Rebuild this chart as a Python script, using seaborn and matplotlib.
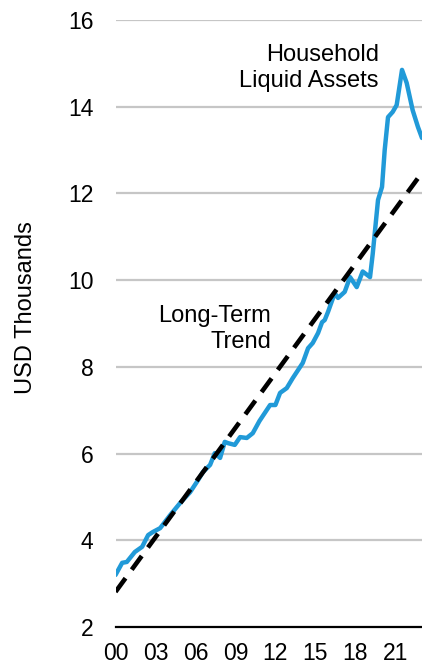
import matplotlib
matplotlib.use("Agg")
import matplotlib.pyplot as plt
import seaborn as sns
import pandas as pd

# household liquid assets, USD thousands
asset_years = [2000.0, 2000.5, 2000.85, 2001.45, 2002.0, 2002.45, 2002.8, 2003.35,
               2004.1, 2004.85, 2005.6, 2006.2, 2006.55, 2007.1, 2007.45, 2007.85,
               2008.2, 2008.45, 2008.95, 2009.35, 2009.85, 2010.3, 2010.8, 2011.6,
               2012.0, 2012.35, 2012.85, 2013.3, 2013.6, 2014.05, 2014.45, 2014.8,
               2015.2, 2015.5, 2015.7, 2015.95, 2016.45, 2016.7, 2017.2, 2017.6,
               2018.1, 2018.55, 2019.1, 2019.3, 2019.7, 2020.0, 2020.2, 2020.45,
               2020.8, 2021.1, 2021.5, 2021.85, 2022.3, 2022.7, 2023.0]
asset_values = [3.2, 3.48, 3.5, 3.73, 3.85, 4.12, 4.19, 4.28,
                4.58, 4.86, 5.11, 5.39, 5.57, 5.74, 6.01, 5.9,
                6.27, 6.24, 6.2, 6.38, 6.36, 6.47, 6.75, 7.12,
                7.12, 7.4, 7.51, 7.74, 7.88, 8.09, 8.43, 8.55,
                8.78, 9.03, 9.08, 9.27, 9.7, 9.59, 9.73, 10.07,
                9.84, 10.2, 10.07, 10.6, 11.85, 12.15, 13.0, 13.76,
                13.88, 14.04, 14.85, 14.55, 13.92, 13.53, 13.28]

# long-term trend end points
trend_years = [2000.0, 2023.0]
trend_values = [2.81, 12.48]

tick_years = [2000, 2003, 2006, 2009, 2012, 2015, 2018, 2021]
tick_labels = ["00", "03", "06", "09", "12", "15", "18", "21"]
y_ticks = [2, 4, 6, 8, 10, 12, 14, 16]

sns.set_style("white")
plt.rcParams["font.family"] = ["Liberation Sans", "DejaVu Sans"]
plt.rcParams["text.color"] = "black"
plt.rcParams["axes.labelcolor"] = "black"

assets = pd.DataFrame({"year": asset_years, "value": asset_values})
trend = pd.DataFrame({"year": trend_years, "value": trend_values})

fig = plt.figure(figsize=(4.22, 6.68), dpi=100)
ax = fig.add_axes([0.2737, 0.0614, 0.7263, 0.9086])

for y in y_ticks[1:]:
    ax.axhline(y, color="#c6c6c6", lw=1.6, zorder=0)

sns.lineplot(data=assets, x="year", y="value", ax=ax, color="#219ad8", lw=3.2)
sns.lineplot(data=trend, x="year", y="value", ax=ax, color="black", lw=3.3,
             dashes=False)
ax.lines[-1].set_dashes((3.7, 2.3))
ax.lines[-1].set_dash_capstyle("butt")

ax.set_xlim(2000, 2023)
ax.set_ylim(2, 16)
ax.set_xticks(tick_years)
ax.set_xticklabels(tick_labels)
ax.set_yticks(y_ticks)
ax.tick_params(axis="both", length=0, labelsize=16.5, colors="black")
ax.tick_params(axis="x", pad=11)
ax.tick_params(axis="y", pad=16)

for side in ["top", "right", "left"]:
    ax.spines[side].set_visible(False)
ax.spines["bottom"].set_color("black")
ax.spines["bottom"].set_linewidth(1.6)

ax.set_xlabel("")
ax.set_ylabel("USD Thousands", fontsize=17)
ax.yaxis.set_label_coords(-0.256, 0.526)

ax.text(2019.77, 14.45, "Household\nLiquid Assets", fontsize=17, ha="right",
        va="baseline", multialignment="right", linespacing=1.25)
ax.text(2011.67, 8.43, "Long-Term\nTrend", fontsize=17, ha="right",
        va="baseline", multialignment="right", linespacing=1.25)

fig.savefig("out.png", dpi=100)
